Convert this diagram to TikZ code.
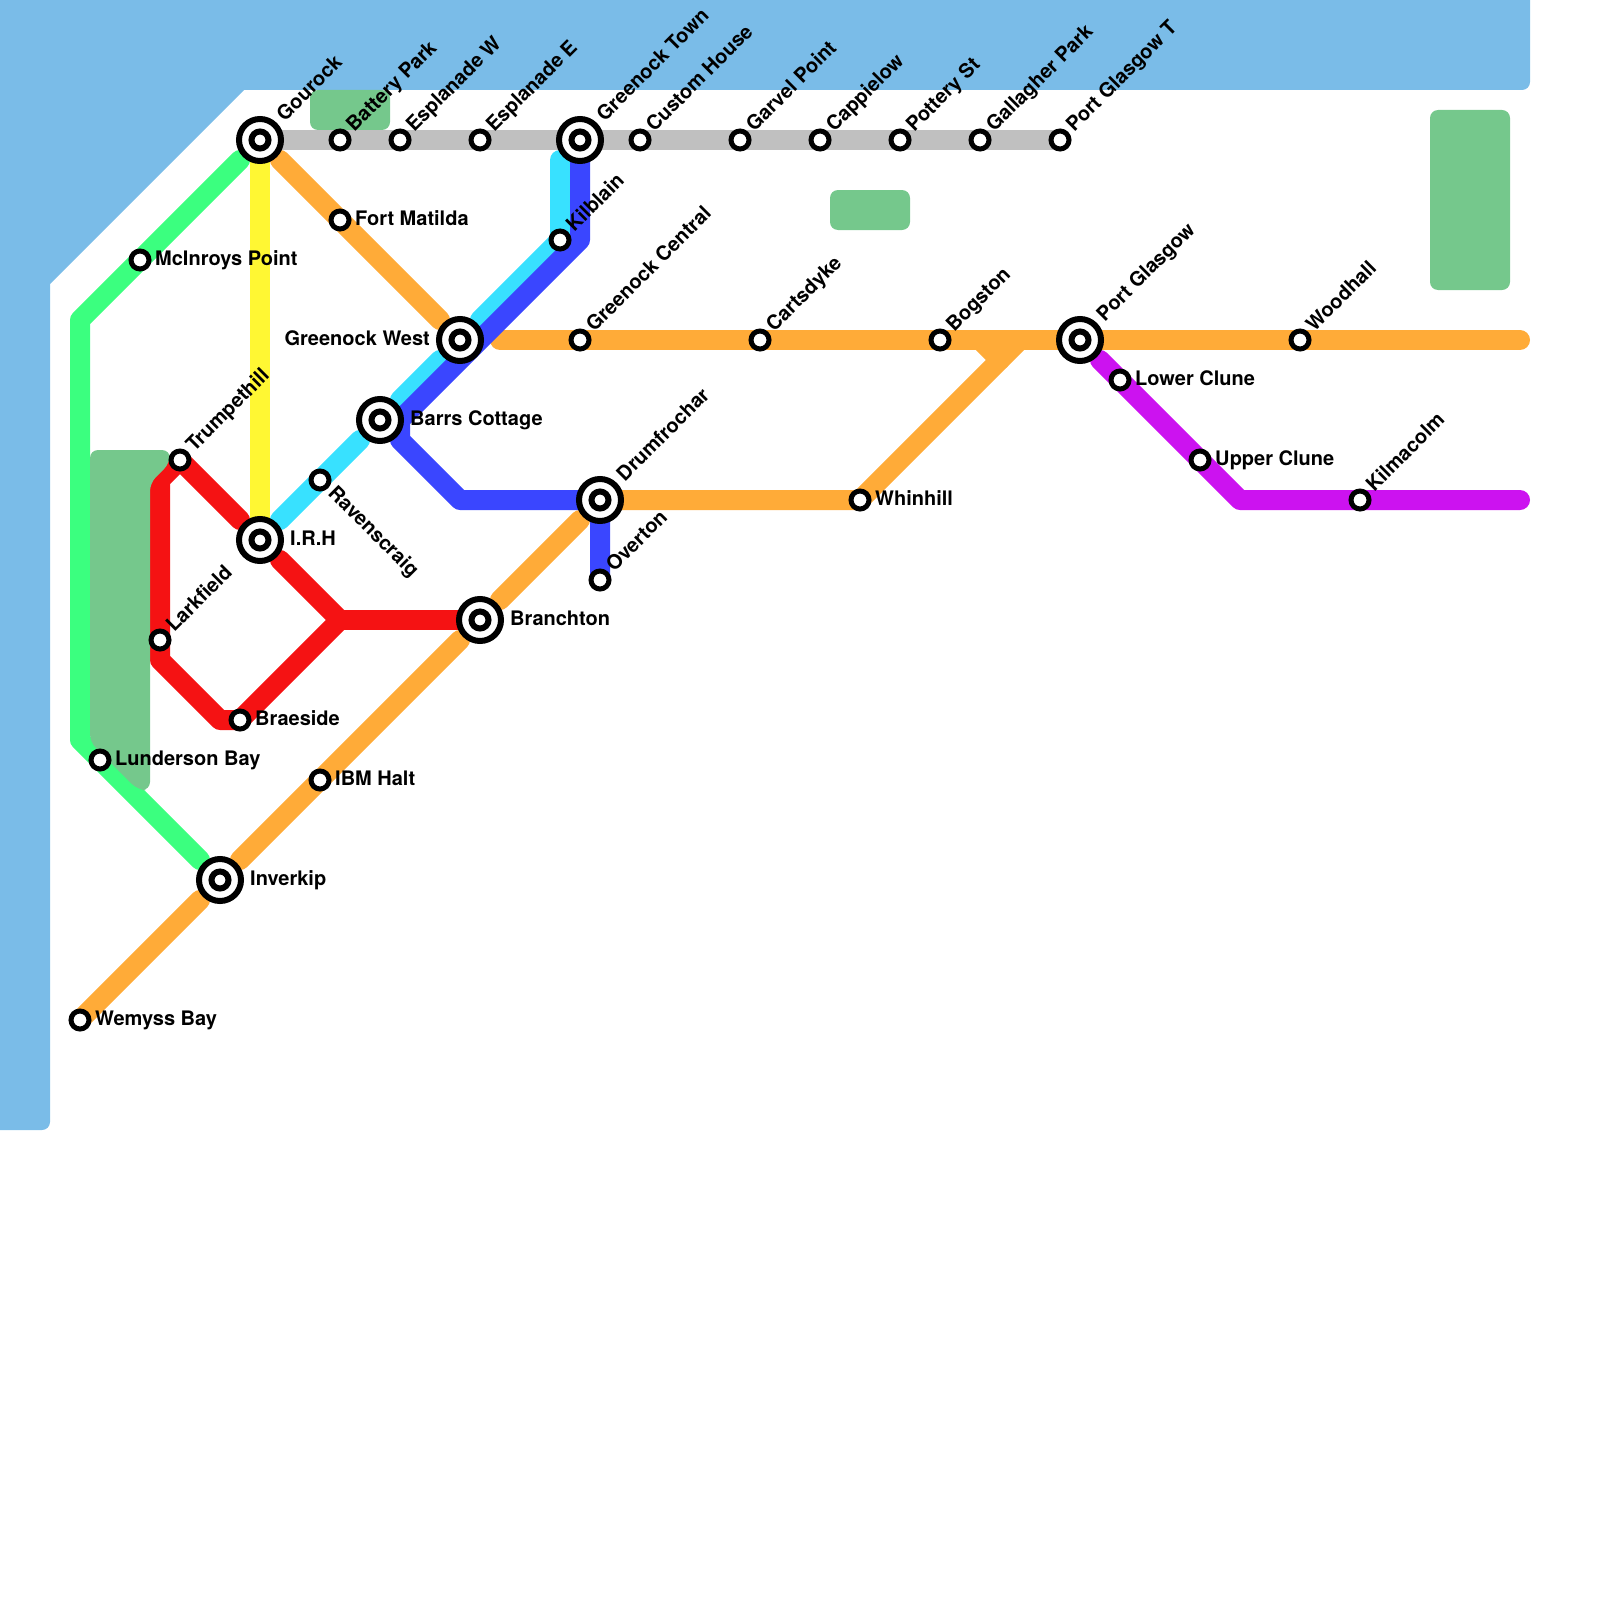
\documentclass[tikz,border=0pt]{standalone}
\usepackage{fontspec}
\setmainfont{TeX Gyre Heros}
\usepackage{xcolor}
\definecolor{linewater}{RGB}{122,188,232}
\definecolor{linepark}{RGB}{117,200,140}
\definecolor{linegrey}{RGB}{192,192,192}
\definecolor{linegreen}{RGB}{59,255,127}
\definecolor{lineyellow}{RGB}{255,247,51}
\definecolor{lineorange}{RGB}{255,171,56}
\definecolor{linered}{RGB}{245,18,19}
\definecolor{linecyan}{RGB}{56,225,255}
\definecolor{lineblue}{RGB}{58,70,255}
\definecolor{linepurple}{RGB}{204,18,240}
\usetikzlibrary{backgrounds}
\tikzset{
  water/.style  ={fill=linewater},
  park/.style   ={fill=linepark,rounded corners=8pt},
  route/.style  ={line width=20pt,line cap=round,line join=round},
  stop/.style   ={circle,draw=black,fill=white,line width=5pt,minimum size=18pt,inner sep=0pt,outer sep=0pt},
  hub/.style    ={circle,draw=black,fill=white,line width=6pt,minimum size=42pt,inner sep=0pt,outer sep=0pt},
  hubeye/.style ={circle,draw=black,fill=white,line width=6pt,minimum size=17pt,inner sep=0pt,outer sep=0pt},
  stoptext/.style={font=\fontsize{20}{24}\selectfont\bfseries,inner sep=0pt},
  stope/.style  ={stoptext,anchor=base west,xshift=15pt,yshift=-5pt},
  stopne/.style ={stoptext,anchor=base west,rotate=45,xshift=15pt,yshift=-5pt},
  stopse/.style ={stoptext,anchor=base west,rotate=-45,xshift=15pt,yshift=-5pt},
  hube/.style   ={stoptext,anchor=base west,xshift=30pt,yshift=-5pt},
  hubw/.style   ={stoptext,anchor=base east,xshift=-30pt,yshift=-5pt},
  hubne/.style  ={stoptext,anchor=base west,rotate=45,xshift=30pt,yshift=-5pt},
}
\begin{document}
\begin{tikzpicture}[x=20pt,y=-20pt]
  \useasboundingbox (0,0) rectangle (80,80);
  \foreach \n/\x/\y/\m/\t in {gourock/13/7/hubne/Gourock,greenocktown/29/7/hubne/Greenock Town,
      greenockwest/23/17/hubw/Greenock West,barrs/19/21/hube/Barrs Cottage,irh/13/27/hube/I.R.H,
      drumfrochar/30/25/hubne/Drumfrochar,branchton/24/31/hube/Branchton,inverkip/11/44/hube/Inverkip,
      portglasgow/54/17/hubne/Port Glasgow}{
    \node[hub] (\n) at (\x,\y) {};
    \node[hubeye] (\n-eye) at (\x,\y) {};
    \node[\m] (\n-name) at (\x,\y) {\t};
  }
  \foreach \n/\x/\y/\m/\t in {battery/17/7/stopne/Battery Park,esplw/20/7/stopne/Esplanade W,
      esple/24/7/stopne/Esplanade E,custom/32/7/stopne/Custom House,garvel/37/7/stopne/Garvel Point,
      cappielow/41/7/stopne/Cappielow,pottery/45/7/stopne/Pottery St,gallagher/49/7/stopne/Gallagher Park,
      portglasgowt/53/7/stopne/Port Glasgow T,fortmatilda/17/11/stope/Fort Matilda,
      mcinroys/7/13/stope/McInroys Point,kilblain/28/12/stopne/Kilblain,
      greenockcentral/29/17/stopne/Greenock Central,cartsdyke/38/17/stopne/Cartsdyke,
      bogston/47/17/stopne/Bogston,woodhall/65/17/stopne/Woodhall,lowerclune/56/19/stope/Lower Clune,
      upperclune/60/23/stope/Upper Clune,kilmacolm/68/25/stopne/Kilmacolm,whinhill/43/25/stope/Whinhill,
      overton/30/29/stopne/Overton,ravenscraig/16/24/stopse/Ravenscraig,trumpethill/9/23/stopne/Trumpethill,
      larkfield/8/32/stopne/Larkfield,braeside/12/36/stope/Braeside,lunderson/5/38/stope/Lunderson Bay,
      ibmhalt/16/39/stope/IBM Halt,wemyss/4/51/stope/Wemyss Bay}{
    \node[stop] (\n) at (\x,\y) {};
    \node[\m] (\n-name) at (\x,\y) {\t};
  }
  % bends and free ends of the routes
  \foreach \n/\x/\y in {ga/12/8,gb/4/16,gc/4/37,gd/10/43,ya/13/8,yb/13/26,oa/14/8,ob/22/16,oc/25/17,
      od/76/17,oe/10/45,of/12/43,og/23/32,oh/25/30,oi/29/26,oj/31/25,ok/51/17,ol/49/17,om/50/18,
      ra/12/26,rb/8/24,rc/8/33,rd/11/36,re/17/31,rf/14/28,ca/14/26,cb/18/22,cc/20/20,cd/22/18,ce/24/16,
      cf/28/8,ba/29/12,bb/20/21,bc/20/22,bd/23/25,pa/55/18,pb/62/25,pc/76/25}{
    \coordinate (\n) at (\x,\y);
  }
  \begin{scope}[on background layer]
    \fill[water] (0,0) -- (76.5,0) [rounded corners=8pt] -- (76.5,4.5) [sharp corners] -- (12.2,4.5) -- (2.5,14.2)
      [rounded corners=8pt] -- (2.5,56.5) [sharp corners] -- (0,56.5) -- cycle;
    \draw[route,linegrey] (gourock.center) -- (portglasgowt.center);
    \draw[route,linegreen] (ga) -- (gb) -- (gc) -- (gd);
    \draw[route,lineyellow] (ya) -- (yb);
    \draw[route,linered] (ra) -- (trumpethill.center) -- (rb) -- (rc) -- (rd) -- (braeside.center) -- (re) -- (rf);
    \draw[route,linered] (re) -- (branchton.center);
    \draw[route,linecyan] (ca) -- (cb);
    \draw[route,linecyan] (cc) -- (cd);
    \draw[route,linecyan] (ce) -- (kilblain.center) -- (cf);
    \draw[route,lineorange] (oa) -- (ob);
    \draw[route,lineorange] (oc) -- (od);
    \draw[route,lineorange] (wemyss.center) -- (oe);
    \draw[route,lineorange] (of) -- (og);
    \draw[route,lineorange] (oh) -- (oi);
    \draw[route,lineorange] (oj) -- (whinhill.center) -- (ok);
    \draw[route,lineorange] (ol) -- (om);
    \draw[route,lineblue] (greenocktown.center) -- (ba) -- (bb) -- (bc) -- (bd) -- (drumfrochar.center) -- (overton.center);
    \draw[route,linepurple] (pa) -- (pb) -- (pc);
    % parks lie over the routes
    \fill[park] (15.5,4.5) rectangle (19.5,6.5);
    \fill[park] (41.5,9.5) rectangle (45.5,11.5);
    \fill[park] (71.5,5.5) rectangle (75.5,14.5);
    \fill[park] (4.5,22.5) -- (8.5,22.5) -- (8.5,23.15) -- (7.5,24.15) -- (7.5,39.5) -- (6.9,39.5) -- (4.5,37.1) -- cycle;
  \end{scope}
\end{tikzpicture}
\end{document}
